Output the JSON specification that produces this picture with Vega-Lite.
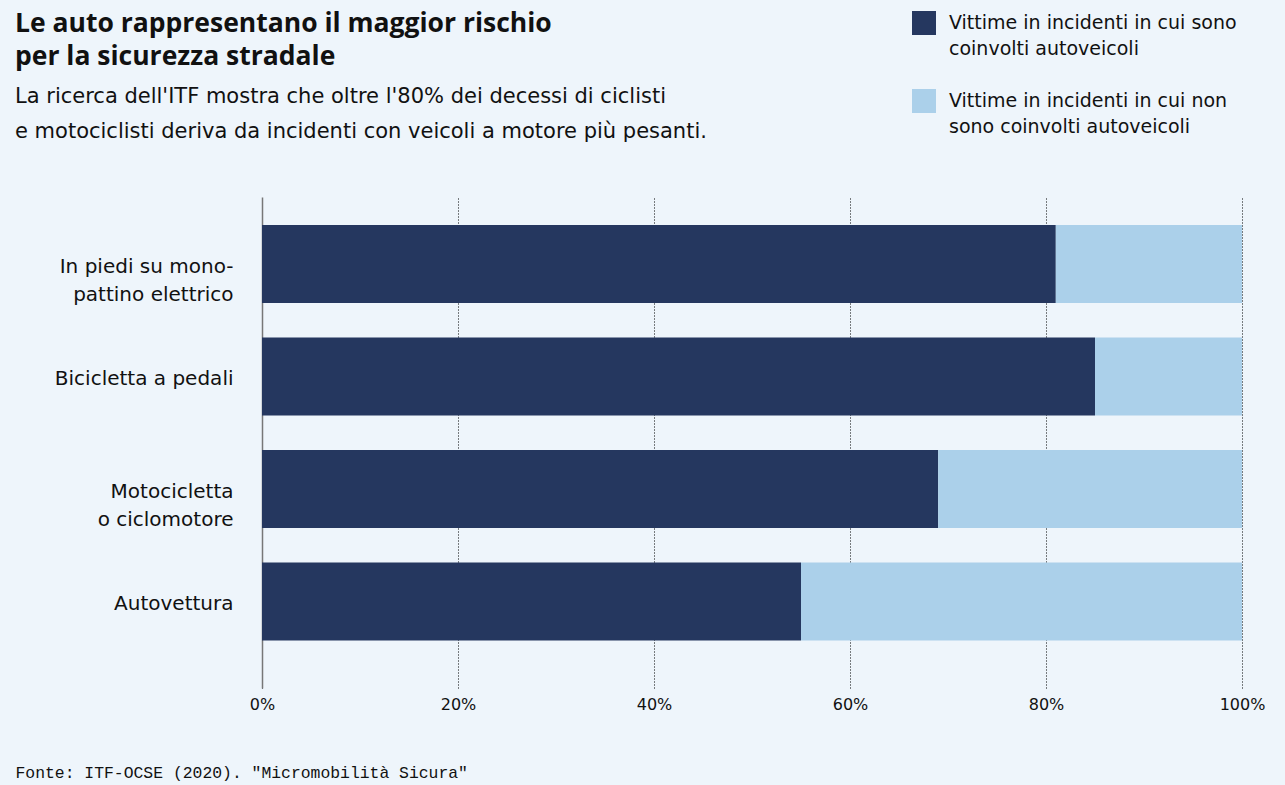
{
  "$schema": "https://vega.github.io/schema/vega-lite/v6.json",
  "width": 980,
  "height": 491,
  "autosize": {"type": "none"},
  "padding": {"left": 262, "top": 197, "right": 43, "bottom": 97},
  "background": "#eef5fb",
  "title": {
    "text": ["Le auto rappresentano il maggior rischio", "per la sicurezza stradale"],
    "subtitle": ["La ricerca dell'ITF mostra che oltre l'80% dei decessi di ciclisti", "e motociclisti deriva da incidenti con veicoli a motore più pesanti."],
    "anchor": "start",
    "frame": "group",
    "dx": -247,
    "offset": -131,
    "font": "Open Sans",
    "fontSize": 26.5,
    "fontWeight": "bold",
    "color": "#111111",
    "lineHeight": 33,
    "subtitleFont": "DejaVu Sans",
    "subtitleFontSize": 21,
    "subtitleColor": "#111111",
    "subtitleLineHeight": 35,
    "subtitlePadding": 16
  },
  "data": {
    "values": [
      {"cat": "In piedi su monopattino elettrico", "tipo": "Vittime in incidenti in cui sono coinvolti autoveicoli", "ord": 1, "val": 0.81},
      {"cat": "In piedi su monopattino elettrico", "tipo": "Vittime in incidenti in cui non sono coinvolti autoveicoli", "ord": 2, "val": 0.19},
      {"cat": "Bicicletta a pedali", "tipo": "Vittime in incidenti in cui sono coinvolti autoveicoli", "ord": 1, "val": 0.85},
      {"cat": "Bicicletta a pedali", "tipo": "Vittime in incidenti in cui non sono coinvolti autoveicoli", "ord": 2, "val": 0.15},
      {"cat": "Motocicletta o ciclomotore", "tipo": "Vittime in incidenti in cui sono coinvolti autoveicoli", "ord": 1, "val": 0.69},
      {"cat": "Motocicletta o ciclomotore", "tipo": "Vittime in incidenti in cui non sono coinvolti autoveicoli", "ord": 2, "val": 0.31},
      {"cat": "Autovettura", "tipo": "Vittime in incidenti in cui sono coinvolti autoveicoli", "ord": 1, "val": 0.55},
      {"cat": "Autovettura", "tipo": "Vittime in incidenti in cui non sono coinvolti autoveicoli", "ord": 2, "val": 0.45}
    ]
  },
  "mark": {"type": "bar"},
  "encoding": {
    "y": {
      "field": "cat",
      "type": "nominal",
      "sort": null,
      "scale": {"paddingInner": 0.3067, "paddingOuter": 0.3356, "align": 0.37},
      "axis": {
        "title": null,
        "ticks": false,
        "domain": true,
        "domainColor": "#777777",
        "domainWidth": 1.5,
        "labelFont": "DejaVu Sans",
        "labelFontSize": 20,
        "labelColor": "#111111",
        "labelPadding": 29,
        "labelLineHeight": 28,
        "labelOffset": 3,
        "labelLimit": 300,
        "labelExpr": "datum.value == 'In piedi su monopattino elettrico' ? ['In piedi su mono-', 'pattino elettrico'] : datum.value == 'Motocicletta o ciclomotore' ? ['Motocicletta', 'o ciclomotore'] : datum.label"
      }
    },
    "x": {
      "field": "val",
      "type": "quantitative",
      "stack": "zero",
      "scale": {"domain": [0, 1], "nice": false},
      "axis": {
        "format": ".0%",
        "values": [0, 0.2, 0.4, 0.6, 0.8, 1],
        "ticks": false,
        "domain": false,
        "grid": true,
        "gridColor": "#000000",
        "gridDash": [1, 2],
        "gridWidth": 1,
        "labelFont": "DejaVu Sans",
        "labelFontSize": 16,
        "labelColor": "#111111",
        "labelPadding": 8,
        "labelFlush": false,
        "title": "Fonte: ITF-OCSE (2020). \"Micromobilità Sicura\"",
        "titleFont": "Liberation Mono",
        "titleFontSize": 16.4,
        "titleFontWeight": "normal",
        "titleColor": "#111111",
        "titleAnchor": "start",
        "titleAlign": "left",
        "titleBaseline": "alphabetic",
        "titleX": -247,
        "titleY": 89
      }
    },
    "color": {
      "field": "tipo",
      "type": "nominal",
      "scale": {
        "domain": ["Vittime in incidenti in cui sono coinvolti autoveicoli", "Vittime in incidenti in cui non sono coinvolti autoveicoli"],
        "range": ["#25375f", "#abd0ea"]
      },
      "legend": {
        "title": null,
        "orient": "none",
        "legendX": 650,
        "legendY": -186,
        "symbolType": "square",
        "symbolSize": 576,
        "symbolStrokeWidth": 0,
        "symbolOpacity": 1,
        "labelFont": "DejaVu Sans",
        "labelFontSize": 19,
        "labelColor": "#111111",
        "labelOffset": 13,
        "labelLimit": 400,
        "rowPadding": 30,
        "labelExpr": "datum.value == 'Vittime in incidenti in cui sono coinvolti autoveicoli' ? ['Vittime in incidenti in cui sono', 'coinvolti autoveicoli'] : ['Vittime in incidenti in cui non', 'sono coinvolti autoveicoli']"
      }
    },
    "order": {"field": "ord", "type": "quantitative"}
  },
  "config": {
    "view": {"stroke": null},
    "style": {"guide-label": {"lineHeight": 26}}
  }
}
